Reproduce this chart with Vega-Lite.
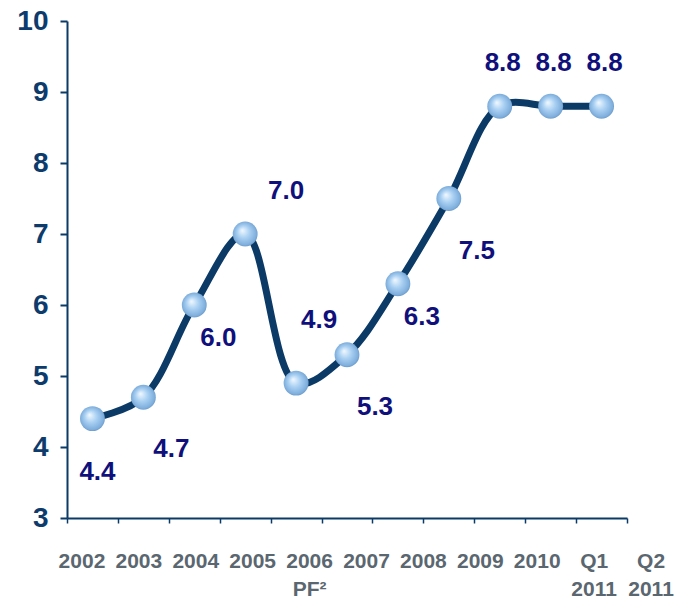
{
  "$schema": "https://vega.github.io/schema/vega-lite/v6.json",
  "width": 560,
  "height": 497,
  "autosize": {"type": "none"},
  "padding": {"left": 67, "top": 21, "right": 52, "bottom": 84},
  "background": "white",
  "config": {"view": {"stroke": null}},
  "data": {
    "values": [
      {"period": "2002", "value": 4.4},
      {"period": "2003", "value": 4.7},
      {"period": "2004", "value": 6.0},
      {"period": "2005", "value": 7.0},
      {"period": "2006 PF²", "value": 4.9},
      {"period": "2007", "value": 5.3},
      {"period": "2008", "value": 6.3},
      {"period": "2009", "value": 7.5},
      {"period": "2010", "value": 8.8},
      {"period": "Q1 2011", "value": 8.8},
      {"period": "Q2 2011", "value": 8.8}
    ]
  },
  "encoding": {
    "x": {
      "field": "period",
      "type": "ordinal",
      "sort": null,
      "scale": {"type": "band", "paddingInner": 0, "paddingOuter": 0},
      "axis": {
        "title": null,
        "domainColor": "#0b3a66",
        "domainWidth": 2,
        "tickColor": "#0b3a66",
        "tickWidth": 1.5,
        "tickSize": 5,
        "tickBand": "extent",
        "labelAngle": 0,
        "labelFont": "Liberation Sans",
        "labelFontWeight": "bold",
        "labelFontSize": 21,
        "labelColor": "#5b6770",
        "labelPadding": 27,
        "labelBaseline": "top",
        "labelLineHeight": 28,
        "labelOverlap": false,
        "labelFlush": false,
        "labelBound": false,
        "labelOffset": {"expr": "-11 + 60 * datum.index"},
        "labelExpr": "datum.label == '2006 PF²' ? ['2006', '\u00a0\u00a0PF²'] : split(datum.label, ' ')"
      }
    },
    "y": {
      "field": "value",
      "type": "quantitative",
      "scale": {"domain": [3, 10], "nice": false, "zero": false},
      "axis": {
        "title": null,
        "values": [3, 4, 5, 6, 7, 8, 9, 10],
        "grid": false,
        "domainColor": "#0b3a66",
        "domainWidth": 2,
        "tickColor": "#0b3a66",
        "tickWidth": 2,
        "tickSize": 7,
        "labelFont": "Liberation Sans",
        "labelFontWeight": "bold",
        "labelFontSize": 28,
        "labelColor": "#0c3b6c",
        "labelPadding": 12
      }
    }
  },
  "layer": [
    {
      "mark": {"type": "line", "interpolate": "catmull-rom", "stroke": "#0b3a66", "strokeWidth": 7}
    },
    {
      "mark": {
        "type": "point",
        "shape": "circle",
        "size": 620,
        "filled": true,
        "opacity": 1,
        "strokeWidth": 0,
        "fill": {
          "gradient": "radial",
          "x1": 0.38, "y1": 0.35, "r1": 0,
          "x2": 0.5, "y2": 0.5, "r2": 0.55,
          "stops": [
            {"offset": 0, "color": "#f2f9ff"},
            {"offset": 0.45, "color": "#a9d0f2"},
            {"offset": 0.85, "color": "#7eaedc"},
            {"offset": 1, "color": "#5d8ab8"}
          ]
        }
      }
    },
    {
      "transform": [{"filter": "datum.period == '2002'"}],
      "mark": {"type": "text", "font": "Liberation Sans", "fontWeight": "bold", "fontSize": 26, "color": "#10107c", "align": "center", "baseline": "middle", "dx": 5, "dy": 53},
      "encoding": {"text": {"field": "value", "type": "quantitative", "format": ".1f"}}
    },
    {
      "transform": [{"filter": "indexof(['2003', '2007', '2009'], datum.period) >= 0"}],
      "mark": {"type": "text", "font": "Liberation Sans", "fontWeight": "bold", "fontSize": 26, "color": "#10107c", "align": "center", "baseline": "middle", "dx": 28, "dy": 52},
      "encoding": {"text": {"field": "value", "type": "quantitative", "format": ".1f"}}
    },
    {
      "transform": [{"filter": "indexof(['2004', '2008'], datum.period) >= 0"}],
      "mark": {"type": "text", "font": "Liberation Sans", "fontWeight": "bold", "fontSize": 26, "color": "#10107c", "align": "center", "baseline": "middle", "dx": 24, "dy": 33},
      "encoding": {"text": {"field": "value", "type": "quantitative", "format": ".1f"}}
    },
    {
      "transform": [{"filter": "datum.period == '2005'"}],
      "mark": {"type": "text", "font": "Liberation Sans", "fontWeight": "bold", "fontSize": 26, "color": "#10107c", "align": "center", "baseline": "middle", "dx": 41, "dy": -43},
      "encoding": {"text": {"field": "value", "type": "quantitative", "format": ".1f"}}
    },
    {
      "transform": [{"filter": "datum.period == '2006 PF²'"}],
      "mark": {"type": "text", "font": "Liberation Sans", "fontWeight": "bold", "fontSize": 26, "color": "#10107c", "align": "center", "baseline": "middle", "dx": 23, "dy": -63},
      "encoding": {"text": {"field": "value", "type": "quantitative", "format": ".1f"}}
    },
    {
      "transform": [{"filter": "datum.value >= 8.5"}],
      "mark": {"type": "text", "font": "Liberation Sans", "fontWeight": "bold", "fontSize": 26, "color": "#10107c", "align": "center", "baseline": "middle", "dx": 3, "dy": -43},
      "encoding": {"text": {"field": "value", "type": "quantitative", "format": ".1f"}}
    }
  ]
}
